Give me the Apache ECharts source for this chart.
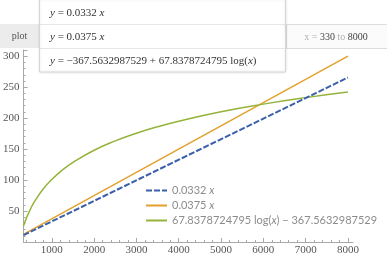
<!DOCTYPE html>
<html>
<head>
<meta charset="utf-8">
<script src="https://cdn.jsdelivr.net/npm/echarts@6/dist/echarts.min.js"></script>
<style>
  html, body { margin: 0; padding: 0; background: #fff; }
  #chart { width: 387px; height: 262px; }
</style>
</head>
<body>
<div id="chart"></div>
<script>
// data
var blueX = [330, 8000];
var blueY = [10.96, 265.6];
var orangeX = [330, 8000];
var orangeY = [12.4, 300];
var greenX = [330, 400, 500, 600, 800, 1000, 1250, 1500, 2000, 2500, 3000, 3500, 4000, 5000, 6000, 7000, 8000];
var greenY = [25.8, 38.9, 54.0, 66.4, 85.9, 101.0, 116.2, 128.6, 148.1, 163.2, 175.6, 186.1, 195.1, 210.3, 222.6, 233.1, 242.1];
var seriesNames = ['0.0332 x', '0.0375 x', '67.8378724795 log(x) \u2212 367.5632987529'];
var xTickLabels = [1000, 2000, 3000, 4000, 5000, 6000, 7000, 8000];
var yTickLabels = [50, 100, 150, 200, 250, 300];

function pairs(xs, ys) {
  return xs.map(function (x, i) { return [x, ys[i]]; });
}

var minorX = [];
for (var v = 400; v <= 8000; v += 200) minorX.push(v);

var axisGray = '#a8a8a8';
var serif = 'Liberation Serif';

var chart = echarts.init(document.getElementById('chart'));
var option = {
  animation: false,
  grid: { left: 23, right: 34, top: 50, bottom: 20 },
  xAxis: [
    {
      type: 'value', min: 330, max: 8120,
      splitLine: { show: false },
      axisLine: { lineStyle: { color: axisGray } },
      axisTick: { inside: true, length: 2, customValues: minorX, lineStyle: { color: axisGray } },
      axisLabel: {
        customValues: xTickLabels, color: '#555', fontFamily: serif, fontSize: 11, margin: 3,
        formatter: function (val) { return String(val); }
      }
    },
    {
      type: 'value', min: 330, max: 8120, position: 'bottom',
      splitLine: { show: false },
      axisLine: { show: false },
      axisTick: { inside: true, length: 4, customValues: xTickLabels, lineStyle: { color: axisGray } },
      axisLabel: { show: false }
    }
  ],
  yAxis: {
    type: 'value', min: 0, max: 310, interval: 50,
    splitLine: { show: false },
    axisLine: { show: true, lineStyle: { color: axisGray } },
    axisTick: { show: true, inside: true, length: 4, lineStyle: { color: axisGray } },
    minorTick: { show: true, splitNumber: 5, length: 2, lineStyle: { color: axisGray } },
    axisLabel: {
      customValues: yTickLabels,
      color: '#555', fontFamily: serif, fontSize: 11, margin: 4
    }
  },
  legend: {
    orient: 'vertical', left: 145, top: 185, padding: 0,
    itemWidth: 21, itemHeight: 8, itemGap: 4,
    itemStyle: { opacity: 0 },
    data: seriesNames,
    textStyle: {
      color: '#8c8c8c', fontFamily: 'Lato', fontSize: 11, lineHeight: 11,
      rich: { i: { color: '#8c8c8c', fontFamily: 'Lato', fontSize: 11, fontStyle: 'italic' } }
    },
    formatter: function (name) {
      return name.replace(/x/, '{i|x}');
    }
  },
  series: [
    {
      name: seriesNames[0], type: 'line', symbol: 'none', z: 3,
      data: pairs(blueX, blueY),
      lineStyle: { color: '#3b60ab', width: 2, type: [6, 2] },
      itemStyle: { color: '#3b60ab' }
    },
    {
      name: seriesNames[1], type: 'line', symbol: 'none', z: 2,
      data: pairs(orangeX, orangeY),
      lineStyle: { color: '#e3a02c', width: 1.5 },
      itemStyle: { color: '#e3a02c' }
    },
    {
      name: seriesNames[2], type: 'line', symbol: 'none', smooth: true, z: 2,
      data: pairs(greenX, greenY),
      lineStyle: { color: '#95b33a', width: 1.5 },
      itemStyle: { color: '#95b33a' }
    }
  ],
  graphic: [
    { type: 'rect', z: 100, shape: { x: 0, y: 24, width: 39, height: 24 }, style: { fill: '#ececec' } },
    { type: 'rect', z: 100, shape: { x: 286.5, y: 24.5, width: 101, height: 24 }, style: { fill: '#fbfbfb', stroke: '#dddddd', lineWidth: 1 } },
    { type: 'text', z: 101, x: 19.5, y: 36.5, style: { text: 'plot', fill: '#555', font: '10px "Liberation Serif"', align: 'center', verticalAlign: 'middle' } },
    {
      type: 'text', z: 101, x: 336, y: 37, style: {
        text: '{g|x =} {d|330} {g|to} {d|8000}', align: 'center', verticalAlign: 'middle',
        font: '10px "Liberation Serif"',
        rich: {
          g: { fill: '#b0b0b0', fontSize: 10, fontFamily: serif },
          d: { fill: '#444', fontSize: 10, fontFamily: serif }
        }
      }
    },
    { type: 'rect', z: 102, shape: { x: 39.5, y: -1, width: 246, height: 73 }, style: { fill: '#fff', stroke: '#d6d6d6', lineWidth: 1, shadowBlur: 3, shadowColor: 'rgba(0,0,0,0.12)' } },
    { type: 'line', z: 103, shape: { x1: 40, y1: 24.5, x2: 285, y2: 24.5 }, style: { stroke: '#e6e6e6' } },
    { type: 'line', z: 103, shape: { x1: 40, y1: 48.5, x2: 285, y2: 48.5 }, style: { stroke: '#e6e6e6' } },
    {
      type: 'text', z: 104, x: 50, y: 13, style: {
        text: '{i|y} = 0.0332 {i|x}', verticalAlign: 'middle', fill: '#333', font: '11px "Liberation Serif"',
        rich: { i: { fontStyle: 'italic', fontSize: 11, fontFamily: serif, fill: '#333' } }
      }
    },
    {
      type: 'text', z: 104, x: 50, y: 37, style: {
        text: '{i|y} = 0.0375 {i|x}', verticalAlign: 'middle', fill: '#333', font: '11px "Liberation Serif"',
        rich: { i: { fontStyle: 'italic', fontSize: 11, fontFamily: serif, fill: '#333' } }
      }
    },
    {
      type: 'text', z: 104, x: 50, y: 61, style: {
        text: '{i|y} = \u2212367.5632987529 + 67.8378724795 log({i|x})', verticalAlign: 'middle', fill: '#333', font: '11px "Liberation Serif"',
        rich: { i: { fontStyle: 'italic', fontSize: 11, fontFamily: serif, fill: '#333' } }
      }
    }
  ]
};
chart.setOption(option);
</script>
</body>
</html>
